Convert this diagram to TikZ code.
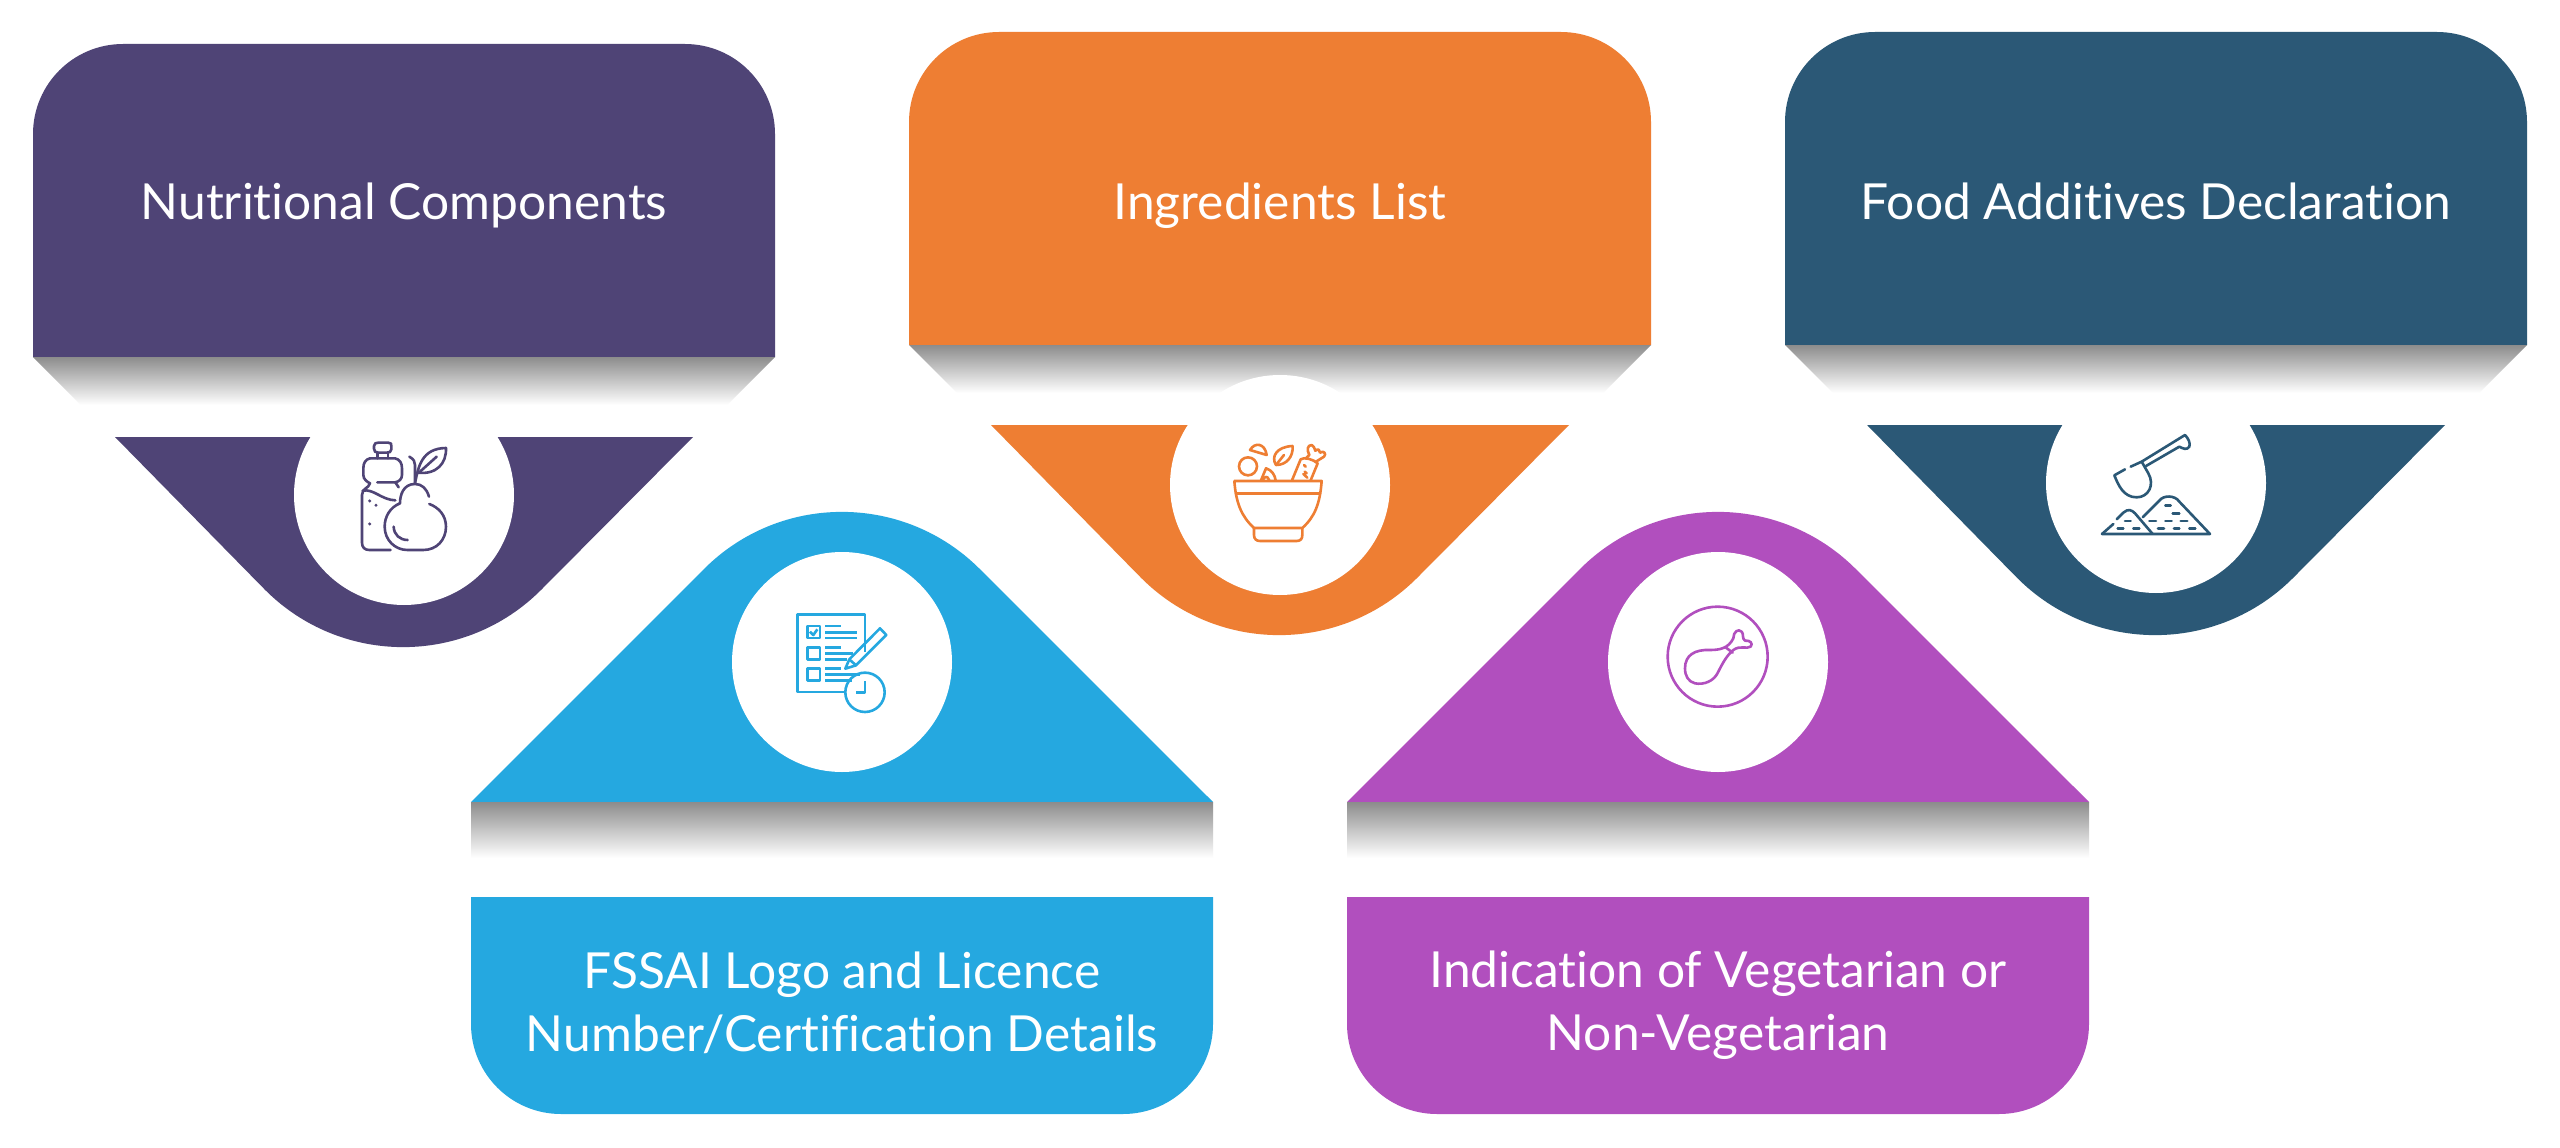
\documentclass[tikz,border=0pt]{standalone}
\usepackage{fontspec}
\setmainfont{Lato}[Ligatures=NoCommon]
\definecolor{cpurple}{HTML}{4F4476}
\definecolor{corange}{HTML}{EE7E33}
\definecolor{cnavy}{HTML}{2B5876}
\definecolor{cblue}{HTML}{25A8E0}
\definecolor{cviolet}{HTML}{B14FBE}
\tikzset{
  x=1pt,y=-1pt,
  caption/.style={text=white,font=\fontsize{49.7}{63}\selectfont,align=center,inner sep=0pt},
  iconline/.style={line width=2.6pt,line cap=round,line join=round},
  disc/.style={circle,fill=white,minimum size=220pt,inner sep=0pt},
}
% down-pointing panel: #1 x-left, #2 y-top, #3 colour
\newcommand{\downpanel}[3]{%
  \fill[#3] (#1,#2+313) -- (#1,#2+90) arc[start angle=180,end angle=270,radius=90] -- (#1+652,#2) arc[start angle=270,end angle=360,radius=90] -- (#1+742,#2+313) -- cycle;
  \fill[#3] (#1+82,#2+393) -- (#1+660,#2+393) -- (#1+508,#2+546) arc[start angle=45,end angle=135,radius=195] -- cycle;
}
\newcommand{\downshade}[2]{%
  \shade[top color=black!45,bottom color=white] (#1,#2+313) -- (#1+742,#2+313) -- (#1+742-48,#2+361) -- (#1+48,#2+361) -- cycle;
}
% up-pointing panel: #1 x-left, #2 y-bottom, #3 colour
\newcommand{\uppanel}[3]{%
  \fill[#3] (#1,#2-312) -- (#1+233,#2-545) arc[start angle=-135,end angle=-45,radius=195] -- (#1+742,#2-312) -- cycle;
  \shade[top color=black!45,bottom color=white] (#1,#2-312) rectangle (#1+742,#2-256);
  \fill[#3] (#1,#2-217) -- (#1+742,#2-217) -- (#1+742,#2-90) arc[start angle=0,end angle=90,radius=90] -- (#1+90,#2) arc[start angle=90,end angle=180,radius=90] -- cycle;
}
\begin{document}
\begin{tikzpicture}
\useasboundingbox (0,0) rectangle (2560,1148);
\fill[white] (0,0) rectangle (2560,1148);

\downpanel{33}{44}{cpurple}
\downpanel{909}{32}{corange}
\downpanel{1785}{32}{cnavy}
\uppanel{471}{1114}{cblue}
\uppanel{1347}{1114}{cviolet}

\downshade{909}{32}
\node[disc] (d1) at (404,495) {};
\node[disc] (d2) at (1280,485) {};
\node[disc] (d3) at (2156,483) {};
\node[disc] (d4) at (842,662) {};
\node[disc] (d5) at (1718,662) {};
\downshade{33}{44}
\downshade{1785}{32}

\node[caption,anchor=base] (t1) at (404,219) {Nutritional Components};
\node[caption,anchor=base] (t2) at (1280,219) {Ingredients List};
\node[caption,anchor=base] (t3) at (2156,219) {Food Additives Declaration};
\node[caption] (t4) at (842,1002.5) {FSSAI Logo and Licence\\Number/Certification Details};
\node[caption] (t5) at (1718,1005) {Indication of Vegetarian or\\Non-Vegetarian};

% bottle and pear
\begin{scope}[shift={(320,420)},x=0.3333pt,y=-0.3333pt,iconline,draw=cpurple]
\draw (175,68) -- (205,68) .. controls (214,68) and (214,72) .. (214,78) -- (214,88) .. controls (214,96) and (208,98) .. (200,98) -- (175,98) .. controls (166,98) and (162,94) .. (162,86) -- (162,78) .. controls (162,70) and (168,68) .. (175,68);
\draw (172,98) -- (172,115) (204,98) -- (204,115);
\draw (150,115) -- (225,115) .. controls (240,118) and (246,130) .. (246,145) -- (246,165) .. controls (246,178) and (236,185) .. (226,187) -- (172,187);
\draw (226,187) -- (236,202);
\draw (150,115) .. controls (136,118) and (130,130) .. (130,145) -- (130,165) .. controls (130,178) and (142,186) .. (150,190) .. controls (146,205) and (126,205) .. (126,225) -- (126,368) .. controls (126,382) and (134,390) .. (148,390) -- (212,390);
\draw (128,212) .. controls (160,205) and (185,240) .. (226,241);
\fill[cpurple] (149,243) circle[radius=5] (168,256) circle[radius=5] (149,312) circle[radius=5];
\draw (268,110) .. controls (282,118) and (285,125) .. (285,135) -- (285,190);
\draw (285,190) .. controls (295,140) and (305,85) .. (378,84) .. controls (380,130) and (350,165) .. (292,158);
\draw (300,155) -- (350,110);
\draw (327,230) .. controls (320,205) and (305,192) .. (285,192) .. controls (250,192) and (240,225) .. (240,250) .. controls (210,262) and (194,290) .. (194,320) .. controls (194,360) and (225,390) .. (262,390) -- (310,390) .. controls (350,390) and (378,360) .. (378,320) .. controls (378,285) and (355,262) .. (328,252);
\draw (221,320) .. controls (222,345) and (240,360) .. (263,360);
\end{scope}

% bowl
\begin{scope}[shift={(1180,400)},x=0.3333pt,y=-0.3333pt,iconline,draw=corange]
\draw (163,243) -- (425,243) .. controls (420,310) and (405,350) .. (367,384) -- (222,384) .. controls (185,350) and (168,310) .. (163,243);
\draw (168,280) -- (420,280);
\draw (222,384) -- (222,405) .. controls (222,418) and (230,423) .. (240,423) -- (350,423) .. controls (362,423) and (367,416) .. (367,405) -- (367,384);
\draw (204,199) circle[radius=27];
\draw (210,150) .. controls (225,125) and (255,130) .. (260,165) -- cycle;
\draw (338,138) .. controls (340,170) and (320,195) .. (288,195) .. controls (272,170) and (290,140) .. (338,138);
\draw (288,195) -- (312,165);
\draw (243,241) -- (258,205) .. controls (275,210) and (285,225) .. (287,241);
\draw (248,241) .. controls (252,230) and (262,225) .. (268,241);
\draw (336,241) -- (362,178) .. controls (372,170) and (400,178) .. (413,190) -- (392,241);
\draw (378,175) -- (388,165) .. controls (380,150) and (382,135) .. (395,135) .. controls (402,138) and (403,145) .. (406,152) .. controls (415,145) and (420,150) .. (420,158) .. controls (432,150) and (440,162) .. (432,170) -- (408,185);
\draw (372,195) -- (377,200) (374,215) -- (380,220) (370,222) -- (382,233);
\end{scope}

% scoop and piles
\begin{scope}[shift={(2060,410)},x=0.3333pt,y=-0.3333pt,iconline,draw=cnavy]
\draw (195,178) -- (163,196) .. controls (175,225) and (190,262) .. (230,262) .. controls (265,262) and (285,225) .. (265,190) -- (245,155) -- (212,170);
\draw (245,155) -- (375,75) .. controls (385,85) and (392,100) .. (388,110) .. controls (380,122) and (368,115) .. (358,110) -- (258,168);
\draw (126,372) -- (450,372) -- (358,275) .. controls (345,255) and (310,255) .. (298,272) -- (272,298);
\draw (248,322) -- (272,298);
\draw (126,372) -- (160,342);
\draw (170,328) -- (190,308) .. controls (205,295) and (215,300) .. (225,310) -- (278,372);
\draw (316,286) -- (332,286);
\draw (338,311) -- (358,311) (268,333) -- (288,333) (316,333) -- (335,333) (362,333) -- (382,333) (195,333) -- (212,333) (173,355) -- (190,355) (220,355) -- (238,355) (294,355) -- (312,355) (342,355) -- (358,355) (388,355) -- (406,355);
\end{scope}

% checklist and clock
\begin{scope}[shift={(760,600)},x=0.3333pt,y=-0.3333pt,iconline,draw=cblue,line cap=butt]
\draw (315,155) -- (315,44) -- (112,44) -- (112,276) -- (255,276);
\draw (142,78) rectangle (180,114);
\draw (142,142) rectangle (180,178);
\draw (142,206) rectangle (180,242);
\draw (150,95) -- (160,105) -- (172,88);
\draw (196,78) -- (242,78) (196,97) -- (290,97) (196,114) -- (290,114);
\draw (196,142) -- (242,142) (196,160) -- (280,160) (196,178) -- (262,178);
\draw (196,206) -- (242,206) (196,224) -- (300,224) (196,242) -- (275,242);
\draw (256,206) -- (268,178) -- (360,85) -- (379,105) -- (288,196) -- cycle;
\draw (268,178) -- (288,196);
\draw (315,277) circle[radius=59];
\draw (315,244) -- (315,277) -- (287,277);
\end{scope}

% drumstick
\begin{scope}[shift={(1640,600)},x=0.3333pt,y=-0.3333pt,iconline,draw=cviolet]
\draw (233,170) circle[radius=150];
\draw (135,205) .. controls (135,165) and (165,148) .. (210,150) .. controls (240,150) and (265,145) .. (280,115) .. controls (280,95) and (295,85) .. (305,95) .. controls (312,102) and (305,115) .. (315,122) .. controls (330,120) and (340,130) .. (332,140) .. controls (320,148) and (300,135) .. (280,150) .. controls (262,165) and (250,185) .. (235,215) .. controls (222,245) and (190,255) .. (165,250) .. controls (145,245) and (135,228) .. (135,205);
\draw (258,143) -- (278,158);
\end{scope}
\end{tikzpicture}
\end{document}
